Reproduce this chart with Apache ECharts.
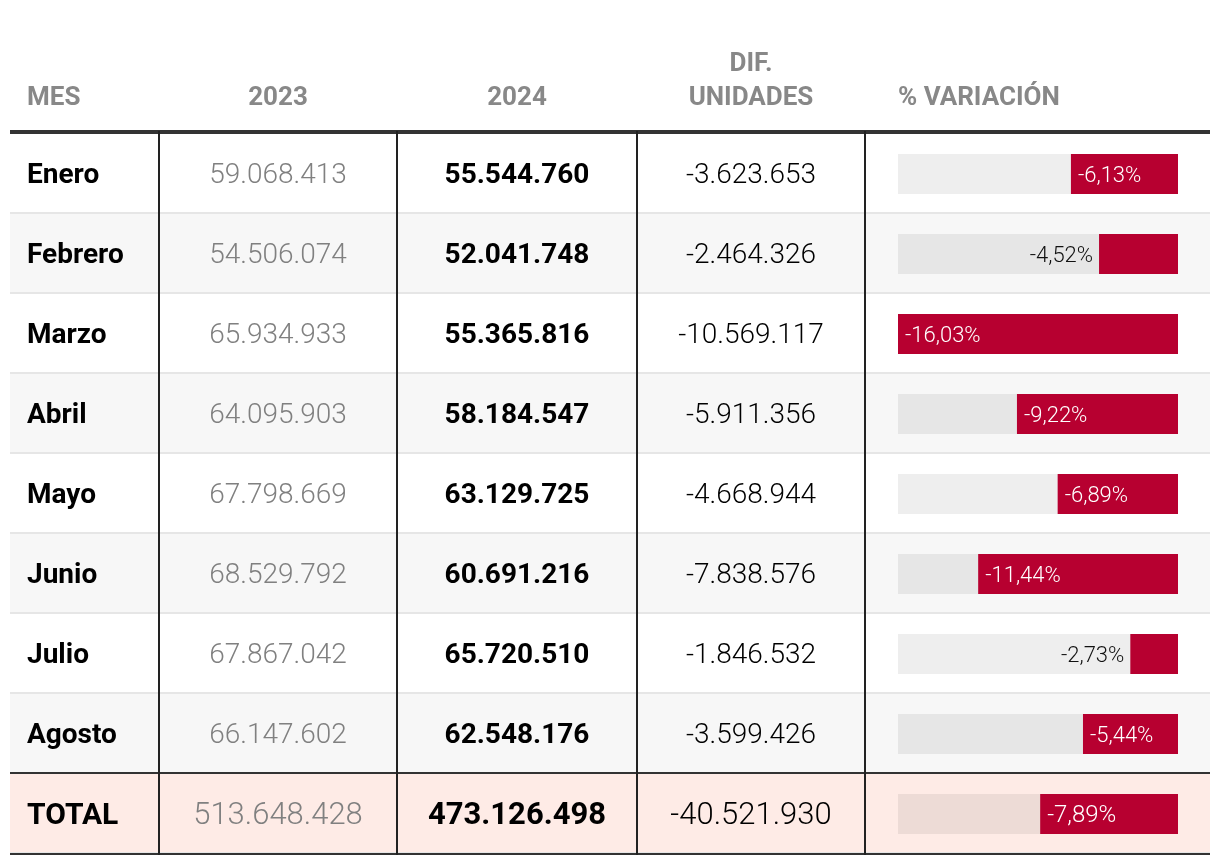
<!DOCTYPE html>
<html>
<head>
<meta charset="utf-8">
<script src="https://cdn.jsdelivr.net/npm/echarts@6/dist/echarts.min.js"></script>
<style>html,body{margin:0;padding:0;background:#fff}#c{width:1220px;height:868px}</style>
</head>
<body>
<div id="c"></div>
<script>
// ---- data ----
const months = ['Enero','Febrero','Marzo','Abril','Mayo','Junio','Julio','Agosto','TOTAL'];
const units2023 = [59068413, 54506074, 65934933, 64095903, 67798669, 68529792, 67867042, 66147602, 513648428];
const units2024 = [55544760, 52041748, 55365816, 58184547, 63129725, 60691216, 65720510, 62548176, 473126498];
const difUnits = [-3623653, -2464326, -10569117, -5911356, -4668944, -7838576, -1846532, -3599426, -40521930];
const pctVar = [-6.13, -4.52, -16.03, -9.22, -6.89, -11.44, -2.73, -5.44, -7.89];
const headers = ['MES', '2023', '2024', 'DIF.\nUNIDADES', '% VARIACIÓN'];

// ---- layout ----
const TOP = 133, ROW_H = 80, N = months.length, H = ROW_H * N;
const COLS = [[10, 159], [159, 397], [397, 637], [637, 865], [865, 1210]];
const BAR_L = 898, BAR_W = 280;
const FONT = 'Roboto, "Noto Sans", sans-serif';
const TOTAL = N - 1;

function fmt(n) {
  const s = Math.abs(n).toString().replace(/\B(?=(\d{3})+(?!\d))/g, '.');
  return (n < 0 ? '-' : '') + s;
}
function fmtPct(v) { return v.toFixed(2).replace('.', ',') + '%'; }

const yCat = (gi) => ({
  type: 'category', gridIndex: gi, data: months, inverse: true,
  axisLine: {show: false}, axisTick: {show: false}, axisLabel: {show: false},
  splitLine: {show: false}
});
const xVal = (gi, min, max) => ({
  type: 'value', gridIndex: gi, min: min, max: max, show: false,
  splitLine: {show: false}
});

const grids = [{left: 10, width: 1200, top: TOP, height: H}];
COLS.slice(0, 4).forEach(c => grids.push({left: c[0], width: c[1] - c[0], top: TOP, height: H}));
grids.push({left: BAR_L, width: BAR_W, top: TOP + 1, height: H});

const xAxes = [xVal(0, 0, 1), xVal(1, 0, 1), xVal(2, 0, 1), xVal(3, 0, 1), xVal(4, 0, 1),
  xVal(5, Math.min.apply(null, pctVar), 0)];
const yAxes = [0, 1, 2, 3, 4, 5].map(yCat);
yAxes[0].splitArea = {show: true, interval: 0, areaStyle: {color: ['#ffffff', '#f7f7f7', '#ffffff', '#f7f7f7', '#ffffff', '#f7f7f7', '#ffffff', '#f7f7f7', '#feebe6']}};
yAxes[0].splitLine = {show: true, interval: 0, lineStyle: {color: '#e6e6e6', width: 2}};

function textCol(gi, values, xPos, position, style, totalSize) {
  return {
    type: 'scatter', xAxisIndex: gi, yAxisIndex: gi, symbolSize: 0, silent: true,
    itemStyle: {opacity: 1},
    data: months.map((m, i) => ({
      value: [xPos, m],
      label: i === TOTAL ? {fontSize: totalSize} : undefined
    })),
    label: Object.assign({
      show: true, position: position, distance: position === 'right' ? 17 : 0,
      offset: [0, 3], opacity: 1, textBorderWidth: 0,
      fontFamily: FONT, formatter: p => values[p.dataIndex]
    }, style)
  };
}

const series = [
  textCol(1, months, 0, 'right', {fontSize: 28, fontWeight: 'bold', color: '#000000'}, 30),
  textCol(2, units2023.map(fmt), 0.5, 'inside', {fontSize: 28, fontWeight: 300, color: '#808080'}, 31),
  textCol(3, units2024.map(fmt), 0.5, 'inside', {fontSize: 28, fontWeight: 'bold', color: '#000000'}, 31),
  textCol(4, difUnits.map(fmt), 0.5, 'inside', {fontSize: 28, fontWeight: 300, color: '#000000'}, 31),
  {
    type: 'bar', xAxisIndex: 5, yAxisIndex: 5, barWidth: 40, silent: true,
    showBackground: true, backgroundStyle: {color: 'rgba(0,0,0,0.065)'},
    itemStyle: {color: '#b70030'},
    data: pctVar.map((v, i) => {
      const inside = Math.abs(v) >= 5;
      return {
        value: v,
        label: {
          show: true,
          position: inside ? 'insideLeft' : 'left',
          distance: inside ? 7 : 6,
          color: inside ? '#ffffff' : '#111111',
          fontSize: i === TOTAL ? 24 : 22
        }
      };
    }),
    label: {fontFamily: FONT, fontWeight: 300, offset: [0, 2], formatter: p => fmtPct(p.value)}
  }
];

// header texts and table rules
const headerStyle = {fontFamily: FONT, fontWeight: 'bold', fontSize: 26, fill: '#888888'};
const graphic = [
  {type: 'text', x: 27, y: 98, style: Object.assign({text: headers[0], align: 'left', verticalAlign: 'middle'}, headerStyle)},
  {type: 'text', x: 278, y: 98, style: Object.assign({text: headers[1], align: 'center', verticalAlign: 'middle'}, headerStyle)},
  {type: 'text', x: 517, y: 98, style: Object.assign({text: headers[2], align: 'center', verticalAlign: 'middle'}, headerStyle)},
  {type: 'text', x: 751, y: 81, style: Object.assign({text: headers[3], align: 'center', verticalAlign: 'middle', lineHeight: 34}, headerStyle)},
  {type: 'text', x: 898, y: 98, style: Object.assign({text: headers[4], align: 'left', verticalAlign: 'middle'}, headerStyle)},
  {type: 'line', z: 100, shape: {x1: 10, y1: TOP - 1, x2: 1210, y2: TOP - 1}, style: {stroke: '#333333', lineWidth: 4}},
  {type: 'line', z: 100, shape: {x1: 10, y1: TOP + ROW_H * TOTAL, x2: 1210, y2: TOP + ROW_H * TOTAL}, style: {stroke: '#333333', lineWidth: 2}},
  {type: 'line', z: 100, shape: {x1: 10, y1: TOP + H + 1, x2: 1210, y2: TOP + H + 1}, style: {stroke: '#333333', lineWidth: 2}}
];
COLS.slice(1).forEach(c => graphic.push({
  type: 'line', z: 100, shape: {x1: c[0], y1: TOP - 2, x2: c[0], y2: TOP + H + 2},
  style: {stroke: '#222222', lineWidth: 2}
}));

const chart = echarts.init(document.getElementById('c'), null, {renderer: 'canvas'});
chart.setOption({
  animation: false,
  backgroundColor: '#ffffff',
  grid: grids, xAxis: xAxes, yAxis: yAxes, series: series, graphic: graphic
});
</script>
</body>
</html>
